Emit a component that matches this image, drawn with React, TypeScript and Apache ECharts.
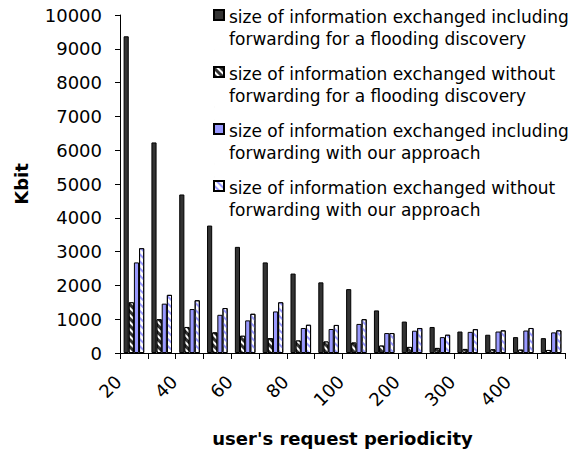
import React, { useEffect, useRef } from "react";
import * as echarts from "echarts";

const categories = ["20", "30", "40", "50", "60", "70", "80", "90", "100", "150", "200", "250", "300", "350", "400", "450"];
const seriesNames = [
  "size of information exchanged including\nforwarding for a flooding discovery",
  "size of information exchanged without\nforwarding for a flooding discovery",
  "size of information exchanged including\nforwarding with our approach",
  "size of information exchanged without\nforwarding with our approach",
];
const floodingIncluding = [9370, 6230, 4690, 3770, 3140, 2680, 2350, 2090, 1890, 1260, 930, 770, 635, 540, 470, 440];
const floodingWithout = [1500, 1000, 770, 610, 510, 440, 370, 340, 310, 220, 180, 150, 120, 110, 100, 90];
const oursIncluding = [2680, 1460, 1300, 1130, 965, 1230, 740, 710, 860, 590, 660, 470, 625, 635, 665, 610];
const oursWithout = [3100, 1720, 1560, 1330, 1160, 1500, 835, 830, 1000, 590, 740, 540, 705, 670, 740, 670];
const yTicks = { min: 0, max: 10000, interval: 1000 };

const FONT = "DejaVu Sans";
const legendIcon = "path://M0,0L0.01,0M0,4H10V14H0ZM0,44L0.01,44";

export default function App() {
  const ref = useRef<HTMLDivElement>(null);
  useEffect(() => {
    if (!ref.current) return;
    const chart = echarts.init(ref.current, undefined, { renderer: "svg" });
    const hatch = (color: string) => ({
      symbol: "rect",
      symbolSize: 1,
      color,
      dashArrayX: [1, 0],
      dashArrayY: [2, 3],
      rotation: Math.PI / 4,
    });
    const base = {
      type: "bar" as const,
      barGap: "0%",
      barCategoryGap: "26%",
    };
    chart.setOption({
      animation: false,
      backgroundColor: "#fff",
      textStyle: { fontFamily: FONT },
      grid: { left: 120, right: 10, top: 15, bottom: 99, containLabel: false },
      legend: {
        orient: "vertical",
        left: 213,
        top: 5,
        padding: 0,
        itemWidth: 10,
        itemHeight: 44,
        itemGap: 11,
        icon: legendIcon,
        textStyle: { fontFamily: FONT, fontSize: 17, color: "#000", lineHeight: 22 },
        data: seriesNames,
      },
      xAxis: {
        type: "category",
        data: categories,
        boundaryGap: true,
        axisLine: { lineStyle: { color: "#000", width: 1 } },
        axisTick: { show: true, interval: 0, length: 6, lineStyle: { color: "#000" } },
        axisLabel: {
          interval: 1,
          rotate: 45,
          margin: 10,
          padding: [0, 22, 0, 0],
          fontFamily: FONT,
          fontSize: 18,
          color: "#000",
        },
        name: "user's request periodicity",
        nameLocation: "middle",
        nameGap: 76,
        nameTextStyle: { fontFamily: FONT, fontSize: 18, fontWeight: "bold", color: "#000" },
      },
      yAxis: {
        type: "value",
        min: yTicks.min,
        max: yTicks.max,
        interval: yTicks.interval,
        splitLine: { show: false },
        axisLine: { show: true, lineStyle: { color: "#000", width: 1 } },
        axisTick: { show: true, length: 5, lineStyle: { color: "#000" } },
        axisLabel: {
          margin: 18,
          fontFamily: FONT,
          fontSize: 18,
          color: "#000",
          formatter: (v: number) => String(v),
        },
        name: "Kbit",
        nameLocation: "middle",
        nameGap: 90,
        nameTextStyle: { fontFamily: FONT, fontSize: 18, fontWeight: "bold", color: "#000" },
      },
      series: [
        {
          ...base,
          name: seriesNames[0],
          data: floodingIncluding,
          itemStyle: { color: "#333333", borderColor: "#000", borderWidth: 1 },
        },
        {
          ...base,
          name: seriesNames[1],
          data: floodingWithout,
          itemStyle: { color: "#333333", borderColor: "#000", borderWidth: 1, decal: hatch("#ffffff") },
        },
        {
          ...base,
          name: seriesNames[2],
          data: oursIncluding,
          itemStyle: { color: "#9999ff", borderColor: "#000", borderWidth: 1 },
        },
        {
          ...base,
          name: seriesNames[3],
          data: oursWithout,
          itemStyle: { color: "#ffffff", borderColor: "#000", borderWidth: 1, decal: hatch("#9999ff") },
        },
      ],
    });
    return () => chart.dispose();
  }, []);
  return (
    <div
      ref={ref}
      style={{ position: "fixed", left: 0, top: 0, width: 575, height: 452 }}
    />
  );
}
